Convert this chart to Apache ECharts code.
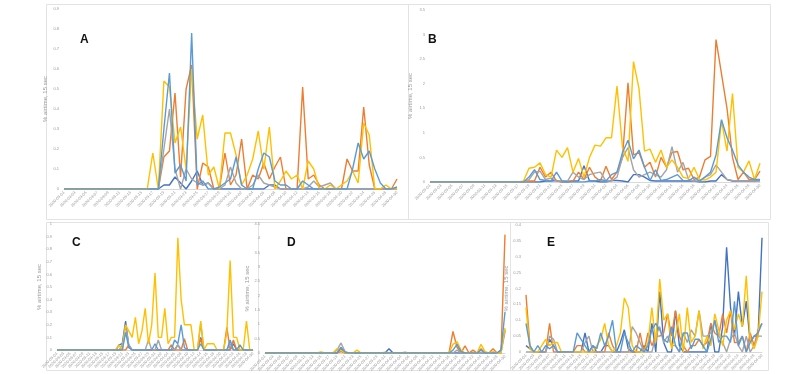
<!DOCTYPE html>
<html><head><meta charset="utf-8">
<script src="https://cdn.jsdelivr.net/npm/echarts@6/dist/echarts.min.js"></script>
<style>html,body{margin:0;padding:0;background:#fff}#c{width:800px;height:374px}</style>
</head><body><div id="c"></div>
<script>
// Categories: daily dates 2020-03-01 .. 2020-04-30
const dates = [];
(function(){const md=[[3,31],[4,30]];for(const [m,n] of md){for(let d=1;d<=n;d++){dates.push('2020-'+String(m).padStart(2,'0')+'-'+String(d).padStart(2,'0'));}}})();

const seriesNames = ['S1','S2','S3','S4','S5'];
const colors = ['#4472C4','#ED7D31','#A5A5A5','#FFC000','#5B9BD5'];
const panelLetters = ['A','B','C','D','E'];
const yTitle = '% airtime, 15 sec';
const yMax = [0.9, 3.5, 1.0, 4.5, 0.4];
const yStep = [0.1, 0.5, 0.1, 0.5, 0.05];

// ---- Panel A ----
const A_darkblue = [0,0,0,0,0,0,0,0,0,0, 0,0,0,0,0,0,0,0,
 0.02,0.02,0.06,0.03,0,0.04,0.09,0.02,0.03,0,
 0,0,0,0,0,0,0,0,0,0.02,
 0.02,0,0,0,0,0,0,0,0,0,
 0,0,0,0,0,0,0,0,0,0,
 0,0,0];
const A_orange = [0,0,0,0,0,0,0,0,0,0, 0,0,0,0,0,0,0,0,
 0.16,0.19,0.48,0.06,0.5,0.62,0,0.13,0.11,0,
 0,0.18,0.02,0.07,0.25,0,0.07,0.05,0.13,0.05,
 0.11,0.16,0,0,0,0.51,0.05,0.07,0.02,0,
 0,0,0,0.15,0.09,0.09,0.41,0.12,0,0,
 0,0,0.05];
const A_gray = [0,0,0,0,0,0,0,0,0,0, 0,0,0,0,0,0,0,0,
 0.2,0.4,0.1,0,0.1,0.05,0.03,0.02,0.03,0,
 0,0.02,0.11,0.03,0,0,0.02,0.07,0.03,0.02,
 0.01,0,0,0,0,0,0.01,0.04,0.01,0.02,
 0.03,0,0,0,0,0,0,0,0,0,
 0,0,0];
const A_yellow = [0,0,0,0,0,0,0,0,0,0, 0,0,0,0,0,0,0.18,0,
 0.54,0.51,0.23,0.31,0.1,0.6,0.25,0.37,0.07,0.11,
 0,0.28,0.28,0.17,0.02,0.07,0.15,0.29,0.1,0.31,
 0,0.04,0.09,0.05,0.07,0,0.14,0.1,0,0,
 0.02,0,0.02,0.04,0.09,0.03,0.33,0.27,0,0,
 0.02,0,0];
const A_lightblue = [0,0,0,0,0,0,0,0,0,0, 0,0,0,0,0,0,0,0,
 0.3,0.58,0.08,0.12,0.04,0.78,0.02,0.04,0,0,
 0.01,0.03,0.05,0.16,0.02,0,0,0.1,0.18,0.16,
 0.04,0.02,0.02,0,0,0.04,0.02,0,0,0,
 0,0,0,0,0.1,0.23,0.15,0.19,0.1,0.03,
 0,0,0.01];

// ---- Panel B ----
const B_darkblue = [0,0,0,0,0,0,0,0,0,0, 0,0,0,0,0,0,0,0,
 0,0,0,0.02,0.02,0.03,0,0,0.02,0.02,
 0.33,0.02,0.02,0,0,0.03,0.03,0.02,0,0.15,
 0.15,0.1,0.03,0.02,0.02,0.02,0.02,0.02,0.02,0.02,
 0.02,0,0,0.02,0.02,0.15,0.05,0.02,0.02,0.02,
 0.02,0.02,0.03];
const B_orange = [0,0,0,0,0,0,0,0,0,0, 0,0,0,0,0,0,0,0,
 0.02,0.02,0.3,0.1,0.2,0.02,0,0.02,0.02,0.2,
 0.05,0.3,0.1,0.02,0.32,0.05,0.2,0.5,2.02,0.55,
 0.6,0.3,0.4,0.1,0.5,0.3,0.6,0.62,0.25,0.28,
 0.05,0.1,0.45,0.52,2.9,2.2,1.5,0.5,0.05,0.2,
 0.05,0.05,0.22];
const B_gray = [0,0,0,0,0,0,0,0,0,0, 0,0,0,0,0,0,0,0,
 0.05,0.2,0.22,0.05,0.08,0.02,0.02,0.02,0.2,0.1,
 0.05,0.15,0.18,0.2,0.02,0.02,0.1,0.5,0.7,0.25,
 0.1,0.15,0.2,0.15,0.1,0.25,0.72,0.2,0.4,0.05,
 0.02,0.02,0.1,0.15,0.35,0.2,0.05,0.03,0.02,0.02,
 0.02,0.02,0.02];
const B_yellow = [0,0,0,0,0,0,0,0,0,0, 0,0,0,0,0,0,0,0.02,
 0.28,0.3,0.39,0.15,0.1,0.65,0.5,0.7,0.2,0.48,
 0.1,0.5,0.75,0.73,0.9,0.9,1.95,0.7,0.42,2.45,
 1.9,0.63,0.67,0.4,0.65,0.3,0.45,0.3,0.1,0.07,
 0.3,0.05,0.04,0.1,0.2,1.25,0.63,1.8,0.3,0.2,
 0.43,0.05,0.38];
const B_lightblue = [0,0,0,0,0,0,0,0,0,0, 0,0,0,0,0,0,0,0,
 0.1,0.25,0.05,0.03,0.02,0.2,0.02,0,0,0,
 0,0.02,0.02,0.05,0.02,0.15,0.2,0.6,0.85,0.47,
 0.65,0.3,0.03,0.25,0.03,0.05,0.1,0.15,0.03,0.02,
 0.1,0.02,0.1,0.2,0.55,1.27,0.9,0.65,0.35,0.2,
 0.1,0.05,0.05];

// ---- Panel C ----
const C_darkblue = [0,0,0,0,0,0,0,0,0,0, 0,0,0,0,0,0,0,0,
 0,0.04,0.05,0.23,0.02,0,0,0,0,0,
 0,0,0,0,0,0,0,0,0,0.04,
 0,0,0,0,0,0,0.1,0,0,0,
 0,0,0,0,0,0,0.05,0,0,0,
 0,0,0];
const C_orange = [0,0,0,0,0,0,0,0,0,0, 0,0,0,0,0,0,0,0,
 0,0,0,0,0.04,0,0,0,0,0,
 0,0,0,0,0,0,0,0.04,0,0,
 0,0.09,0,0,0,0,0.09,0,0,0,
 0,0,0,0,0.18,0,0.08,0,0,0,
 0,0,0];
const C_gray = [0,0,0,0,0,0,0,0,0,0, 0,0,0,0,0,0,0,0,
 0,0,0.04,0.2,0.04,0,0,0,0,0,
 0.08,0,0,0.08,0,0,0,0,0,0.04,
 0,0,0,0,0,0,0.21,0,0,0,
 0,0,0,0,0,0.05,0,0,0,0,
 0,0,0];
const C_yellow = [0,0,0,0,0,0,0,0,0,0, 0,0,0,0,0,0,0,0,
 0,0.04,0,0.2,0.15,0.1,0.26,0.05,0.15,0.33,
 0.05,0.2,0.61,0.1,0.1,0.33,0.05,0.1,0.1,0.89,
 0.4,0.2,0.2,0.2,0,0,0.23,0,0.05,0.05,
 0.05,0,0,0,0.14,0.71,0.1,0.1,0,0,
 0.23,0,0];
const C_lightblue = [0,0,0,0,0,0,0,0,0,0, 0,0,0,0,0,0,0,0,
 0,0,0,0.14,0.02,0,0,0,0,0,
 0,0,0.05,0,0,0,0,0,0.08,0.05,
 0.2,0.02,0,0,0,0,0.05,0,0,0,
 0,0,0,0,0,0.08,0,0,0.04,0,
 0,0,0];

// ---- Panel D ----
const D_darkblue = [0,0,0,0,0,0,0,0,0,0, 0,0,0,0,0,0,0,0,
 0,0.15,0,0,0,0,0,0,0,0,
 0,0,0,0.15,0,0,0,0,0,0,
 0,0,0,0,0,0,0,0,0,0,
 0,0,0,0,0,0,0,0,0,0,
 0,0.1,0.8];
const D_orange = [0,0,0,0,0,0,0,0,0,0, 0,0,0,0,0,0,0,0,
 0,0.05,0,0,0,0,0,0,0,0,
 0,0,0,0,0,0,0,0,0,0,
 0,0,0,0,0,0,0,0,0,0.75,
 0.2,0,0.25,0,0.1,0,0.15,0,0,0.15,
 0,0,4.13];
const D_gray = [0,0,0,0,0,0,0,0,0,0, 0,0,0,0,0,0,0,0,
 0.1,0.35,0.05,0,0,0,0,0,0,0,
 0,0,0,0,0,0,0,0.03,0,0,
 0,0,0,0,0,0,0,0,0,0,
 0.1,0,0,0,0,0,0,0,0,0,
 0,0,0.75];
const D_yellow = [0,0,0,0,0,0,0,0,0,0, 0,0,0,0,0.04,0,0,0,
 0.15,0.1,0,0,0,0.1,0,0,0,0,
 0,0,0.03,0,0,0,0,0,0,0,
 0,0,0,0,0,0,0,0,0,0.3,
 0.4,0.1,0,0,0,0,0.3,0.05,0,0.05,
 0,0,0.88];
const D_lightblue = [0,0,0,0,0,0,0,0,0,0, 0,0,0,0,0,0,0,0,
 0,0.2,0.03,0,0,0,0,0,0,0,
 0,0,0,0,0,0,0,0,0,0,
 0,0,0,0,0,0,0,0,0,0.1,
 0.3,0.05,0,0,0,0,0.1,0,0,0,
 0,0.1,1.43];

// ---- Panel E ----
const E_darkblue = [0.02,0.01,0,0,0,0,0.04,0.02,0,0,
 0,0,0,0,0,0.06,0,0.02,0,0,
 0.02,0.02,0,0,0.03,0.07,0.01,0,0,0,
 0.02,0,0.09,0,0.19,0.03,0,0,0.13,0.02,
 0,0,0,0,0,0,0,0.09,0,0,
 0.08,0.33,0.14,0.05,0.19,0.08,0.16,0.03,0.05,0.05,
 0.36];
const E_orange = [0.18,0.02,0,0,0,0,0.09,0,0,0,
 0,0,0,0.02,0.02,0,0,0,0,0,
 0,0.06,0.02,0,0,0,0,0,0,0.06,
 0,0.06,0.02,0.05,0.05,0.06,0.12,0.05,0.13,0.05,
 0.02,0,0.02,0.02,0.04,0.02,0.03,0.09,0.06,0.05,
 0.12,0.06,0.13,0.03,0.03,0.05,0,0.06,0.02,0.07,
 0.09];
const E_gray = [0,0,0,0,0,0,0.05,0.04,0,0,
 0,0,0,0,0,0.03,0.05,0,0,0,
 0,0,0,0,0,0,0,0.08,0.06,0.03,
 0,0,0,0.05,0.08,0.03,0.05,0.02,0.02,0,
 0.06,0.03,0.07,0.05,0.13,0.05,0.05,0.06,0.1,0.05,
 0.03,0,0.04,0.06,0.02,0,0.05,0,0.02,0.05,
 0.05];
const E_yellow = [0.14,0.01,0,0,0.02,0.04,0.02,0.03,0.03,0,
 0,0,0,0,0,0,0,0,0.02,0.04,
 0.09,0.02,0,0.02,0.06,0.17,0.14,0.02,0,0,
 0,0.03,0.14,0.03,0.23,0.1,0.12,0.01,0.05,0.12,
 0,0.14,0.03,0.05,0.13,0.01,0.05,0.02,0.12,0.07,
 0.02,0.1,0.13,0.07,0.12,0.08,0.24,0.04,0.01,0.05,
 0.19];
const E_lightblue = [0.09,0.02,0,0.02,0,0.02,0.01,0.02,0,0,
 0,0,0,0.06,0.04,0.02,0,0.02,0.01,0.06,
 0.02,0.05,0.1,0,0,0.06,0.03,0,0.02,0.01,
 0,0.02,0.07,0.09,0.07,0.04,0.03,0.08,0.02,0,
 0.06,0.06,0.01,0.04,0.04,0.02,0,0.04,0.1,0.03,
 0.05,0.05,0.03,0.16,0.02,0.05,0,0.03,0.05,0.06,
 0.09];

const panels = [
  [A_darkblue,A_orange,A_gray,A_yellow,A_lightblue],
  [B_darkblue,B_orange,B_gray,B_yellow,B_lightblue],
  [C_darkblue,C_orange,C_gray,C_yellow,C_lightblue],
  [D_darkblue,D_orange,D_gray,D_yellow,D_lightblue],
  [E_darkblue,E_orange,E_gray,E_yellow,E_lightblue]
];

// layout (plot areas) and frames
const grids = [
  {left:64, top:9, width:333, height:180},
  {left:430, top:10, width:330, height:172},
  {left:57, top:224, width:196, height:126},
  {left:265, top:224, width:240, height:130},
  {left:526, top:225, width:236, height:127}
];
const frames = [
  [46,4,362,215],[408,4,362,215],[46,222,212,148],[258,222,252,148],[510,222,258,148]
];
const titleGap = [16,17,11,12,14];
const letterPos = [[80,34],[428,34],[72,237],[287,237],[547,237]];
const decimals = [1,1,1,1,2];

const chart = echarts.init(document.getElementById('c'), null, {renderer:'canvas'});
const xAxis = [], yAxis = [], series = [], graphic = [];
panels.forEach((p, i) => {
  xAxis.push({type:'category', gridIndex:i, data:dates, boundaryGap:false,
    axisLine:{show:true, lineStyle:{color:'#d9d9d9'}}, axisTick:{show:false},
    axisLabel:{interval:1, rotate:45, fontSize:4, color:'#999', margin:3, fontFamily:'Liberation Sans'}});
  yAxis.push({type:'value', gridIndex:i, min:0, max:yMax[i], interval:yStep[i],
    name:yTitle, nameLocation:'middle', nameGap:titleGap[i], nameRotate:90,
    nameTextStyle:{fontSize:6, color:'#999', fontFamily:'Liberation Sans'},
    axisLine:{show:false}, axisTick:{show:false}, splitLine:{show:false},
    axisLabel:{fontSize:4, color:'#999', margin:5, fontFamily:'Liberation Sans',
      formatter: v => (Math.round(v*100)/100).toString()}});
  p.forEach((arr, k) => {
    series.push({type:'line', name:seriesNames[k], xAxisIndex:i, yAxisIndex:i, data:arr,
      showSymbol:false, symbol:'none', smooth:false, animation:false,
      lineStyle:{color:colors[k], width:1.4}, itemStyle:{color:colors[k]}});
  });
  const f = frames[i];
  graphic.push({type:'rect', shape:{x:f[0]+0.5,y:f[1]+0.5,width:f[2],height:f[3]},
    style:{fill:'none', stroke:'#e3e3e3', lineWidth:1}, silent:true, z:-1});
  graphic.push({type:'text', x:letterPos[i][0], y:letterPos[i][1],
    style:{text:panelLetters[i], font:'bold 12px "Liberation Sans", Arial', fill:'#111'}});
});

chart.setOption({
  animation:false,
  backgroundColor:'#fff',
  grid: grids,
  xAxis, yAxis, series, graphic
});
</script></body></html>
